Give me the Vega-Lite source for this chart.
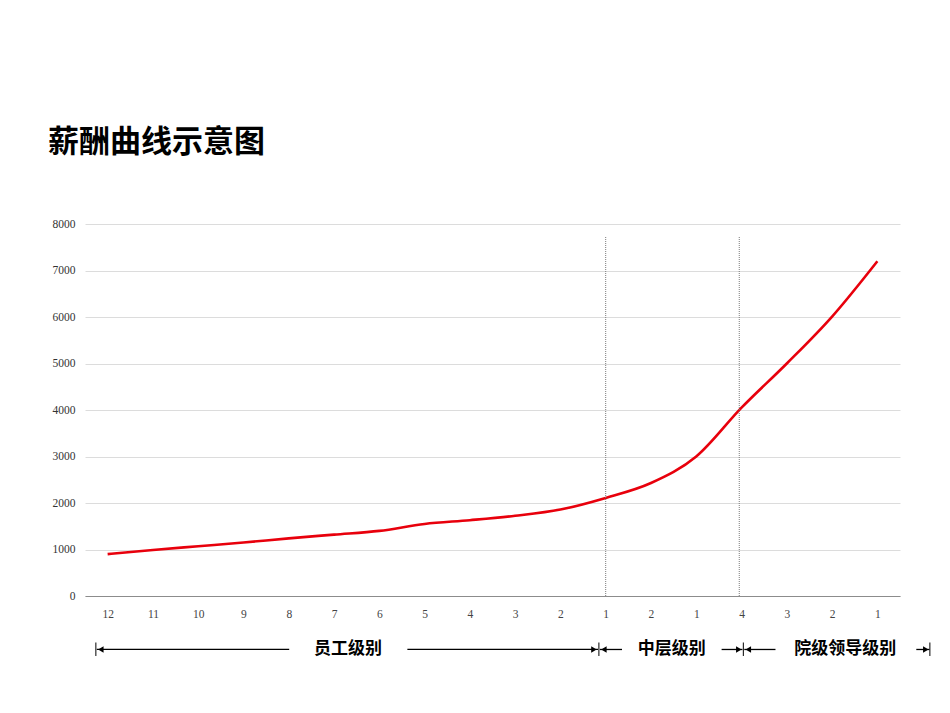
{
  "$schema": "https://vega.github.io/schema/vega-lite/v6.json",
  "autosize": "none",
  "width": 815,
  "height": 372,
  "padding": {"left": 85, "top": 224, "right": 50, "bottom": 117},
  "background": "white",
  "config": {"view": {"stroke": null}},
  "title": {
    "text": "薪酬曲线示意图",
    "anchor": "start",
    "frame": "group",
    "dx": -37,
    "offset": 59,
    "font": "Noto Sans CJK SC",
    "fontSize": 31,
    "fontWeight": "bold",
    "color": "#000000"
  },
  "datasets": {
    "salary": [
      {"idx": 0, "grade": "12", "level": "员工级别", "salary": 900},
      {"idx": 1, "grade": "11", "level": "员工级别", "salary": 990},
      {"idx": 2, "grade": "10", "level": "员工级别", "salary": 1070},
      {"idx": 3, "grade": "9", "level": "员工级别", "salary": 1150},
      {"idx": 4, "grade": "8", "level": "员工级别", "salary": 1240},
      {"idx": 5, "grade": "7", "level": "员工级别", "salary": 1320},
      {"idx": 6, "grade": "6", "level": "员工级别", "salary": 1400},
      {"idx": 7, "grade": "5", "level": "员工级别", "salary": 1550},
      {"idx": 8, "grade": "4", "level": "员工级别", "salary": 1630},
      {"idx": 9, "grade": "3", "level": "员工级别", "salary": 1725},
      {"idx": 10, "grade": "2", "level": "员工级别", "salary": 1860},
      {"idx": 11, "grade": "1", "level": "员工级别", "salary": 2110},
      {"idx": 12, "grade": "2", "level": "中层级别", "salary": 2430},
      {"idx": 13, "grade": "1", "level": "中层级别", "salary": 3000},
      {"idx": 14, "grade": "4", "level": "院级领导级别", "salary": 4050},
      {"idx": 15, "grade": "3", "level": "院级领导级别", "salary": 5000},
      {"idx": 16, "grade": "2", "level": "院级领导级别", "salary": 6010},
      {"idx": 17, "grade": "1", "level": "院级领导级别", "salary": 7200}
    ],
    "dividers": [
      {"x": 11, "y": 0, "y2": 7740},
      {"x": 13.95, "y": 0, "y2": 7740}
    ],
    "segments": [
      {"x": -0.24, "x2": 4.01, "y": -1150},
      {"x": 6.62, "x2": 10.83, "y": -1150},
      {"x": 10.87, "x2": 11.36, "y": -1150},
      {"x": 13.56, "x2": 14.02, "y": -1150},
      {"x": 14.06, "x2": 14.75, "y": -1150},
      {"x": 17.86, "x2": 18.15, "y": -1150}
    ],
    "heads": [
      {"x": -0.15, "y": -1150, "dir": "left"},
      {"x": 10.74, "y": -1150, "dir": "right"},
      {"x": 10.96, "y": -1150, "dir": "left"},
      {"x": 13.94, "y": -1150, "dir": "right"},
      {"x": 14.15, "y": -1150, "dir": "left"},
      {"x": 18.07, "y": -1150, "dir": "right"}
    ],
    "bars": [
      {"x": -0.26, "y": -1000, "y2": -1290},
      {"x": 10.85, "y": -1000, "y2": -1290},
      {"x": 14.04, "y": -1000, "y2": -1290},
      {"x": 18.16, "y": -1000, "y2": -1290}
    ],
    "levels": [
      {"x": 5.31, "y": -1150, "text": "员工级别"},
      {"x": 12.46, "y": -1150, "text": "中层级别"},
      {"x": 16.29, "y": -1150, "text": "院级领导级别"}
    ]
  },
  "layer": [
    {
      "data": {"name": "salary"},
      "mark": {"type": "line", "color": "#e8000c", "strokeWidth": 2.6, "interpolate": "monotone"},
      "encoding": {
        "x": {
          "field": "idx", "type": "quantitative",
          "scale": {"domain": [-0.5, 17.5], "nice": false, "zero": false},
          "axis": {
            "title": null,
            "values": [0, 1, 2, 3, 4, 5, 6, 7, 8, 9, 10, 11, 12, 13, 14, 15, 16, 17],
            "labelExpr": "['12','11','10','9','8','7','6','5','4','3','2','1','2','1','4','3','2','1'][datum.value]",
            "grid": false,
            "ticks": false,
            "domain": true,
            "domainColor": "#8c8c8c",
            "domainWidth": 1,
            "labelFont": "Liberation Serif",
            "labelFontSize": 11.5,
            "labelColor": "#444444",
            "labelPadding": 12
          }
        },
        "y": {
          "field": "salary", "type": "quantitative",
          "scale": {"domain": [0, 8000], "nice": false},
          "axis": {
            "title": null,
            "values": [0, 1000, 2000, 3000, 4000, 5000, 6000, 7000, 8000],
            "format": "d",
            "ticks": false,
            "domain": false,
            "grid": true,
            "gridColor": "#dcdcdc",
            "gridWidth": 1,
            "labelFont": "Liberation Serif",
            "labelFontSize": 11.5,
            "labelColor": "#333333",
            "labelPadding": 10
          }
        }
      }
    },
    {
      "data": {"name": "dividers"},
      "mark": {"type": "rule", "color": "#7a7a7a", "strokeWidth": 1, "strokeDash": [1, 1]},
      "encoding": {
        "x": {"field": "x", "type": "quantitative", "scale": {"domain": [-0.5, 17.5], "nice": false, "zero": false}},
        "y": {"field": "y", "type": "quantitative", "scale": {"domain": [0, 8000], "nice": false}},
        "y2": {"field": "y2"}
      }
    },
    {
      "data": {"name": "segments"},
      "mark": {"type": "rule", "color": "#000000", "strokeWidth": 1.3},
      "encoding": {
        "x": {"field": "x", "type": "quantitative", "scale": {"domain": [-0.5, 17.5], "nice": false, "zero": false}},
        "x2": {"field": "x2"},
        "y": {"field": "y", "type": "quantitative", "scale": {"domain": [0, 8000], "nice": false}}
      }
    },
    {
      "data": {"name": "bars"},
      "mark": {"type": "rule", "color": "#000000", "strokeWidth": 1},
      "encoding": {
        "x": {"field": "x", "type": "quantitative", "scale": {"domain": [-0.5, 17.5], "nice": false, "zero": false}},
        "y": {"field": "y", "type": "quantitative", "scale": {"domain": [0, 8000], "nice": false}},
        "y2": {"field": "y2"}
      }
    },
    {
      "data": {"name": "heads"},
      "mark": {"type": "point", "filled": true, "color": "#000000", "opacity": 1, "size": 40},
      "encoding": {
        "x": {"field": "x", "type": "quantitative", "scale": {"domain": [-0.5, 17.5], "nice": false, "zero": false}},
        "y": {"field": "y", "type": "quantitative", "scale": {"domain": [0, 8000], "nice": false}},
        "shape": {"field": "dir", "type": "nominal", "scale": {"domain": ["left", "right"], "range": ["triangle-left", "triangle-right"]}, "legend": null}
      }
    },
    {
      "data": {"name": "levels"},
      "mark": {"type": "text", "font": "Noto Sans CJK SC", "fontSize": 17, "fontWeight": "bold", "color": "#000000", "baseline": "middle", "align": "center"},
      "encoding": {
        "x": {"field": "x", "type": "quantitative", "scale": {"domain": [-0.5, 17.5], "nice": false, "zero": false}},
        "y": {"field": "y", "type": "quantitative", "scale": {"domain": [0, 8000], "nice": false}},
        "text": {"field": "text"}
      }
    }
  ]
}
